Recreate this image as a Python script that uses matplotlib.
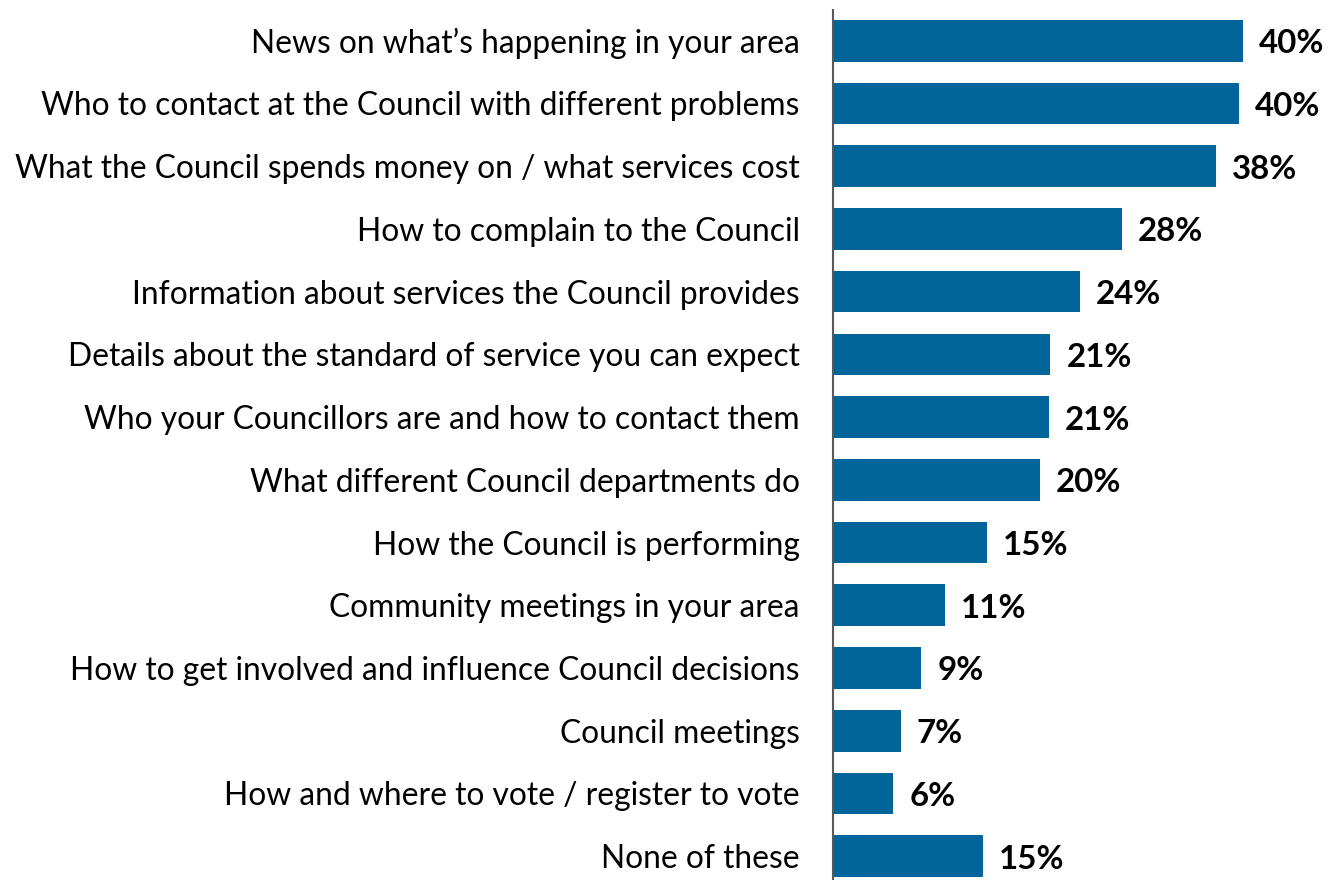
import matplotlib
matplotlib.use("Agg")
import matplotlib.pyplot as plt

categories = [
    "News on what\u2019s happening in your area",
    "Who to contact at the Council with different problems",
    "What the Council spends money on / what services cost",
    "How to complain to the Council",
    "Information about services the Council provides",
    "Details about the standard of service you can expect",
    "Who your Councillors are and how to contact them",
    "What different Council departments do",
    "How the Council is performing",
    "Community meetings in your area",
    "How to get involved and influence Council decisions",
    "Council meetings",
    "How and where to vote / register to vote",
    "None of these",
]
values = [40.0, 39.6, 37.4, 28.2, 24.1, 21.2, 21.1, 20.2, 15.0, 10.9, 8.6, 6.6, 5.9, 14.6]
value_labels = ["40%", "40%", "38%", "28%", "24%", "21%", "21%", "20%", "15%", "11%", "9%", "7%", "6%", "15%"]

bar_color = "#02659A"

fig = plt.figure(figsize=(13.28, 8.8), dpi=100)
ax = fig.add_axes([833/1328, 0.0, 1 - 833/1328, (880 - 10) / 880])

ypos = list(range(len(categories)))
ax.barh(ypos, values, height=0.665, color=bar_color)

ax.set_xlim(0, 48.3)
ax.set_ylim(13.38, -0.49)

ax.set_yticks(ypos)
ax.set_yticklabels(categories, fontsize=22.9, family="Lato", color="#000000")
ax.tick_params(axis="y", length=0, pad=24)
ax.set_xticks([])

for s in ["top", "right", "bottom"]:
    ax.spines[s].set_visible(False)
ax.spines["left"].set_color("#595959")
ax.spines["left"].set_linewidth(1.5)

for y, v, lab in zip(ypos, values, value_labels):
    ax.annotate(lab, xy=(v, y), xytext=(16, -3), textcoords="offset pixels",
                va="center", ha="left", fontsize=23.8, fontweight="bold",
                family="Lato", color="#000000")

fig.savefig("out.png", dpi=100)
